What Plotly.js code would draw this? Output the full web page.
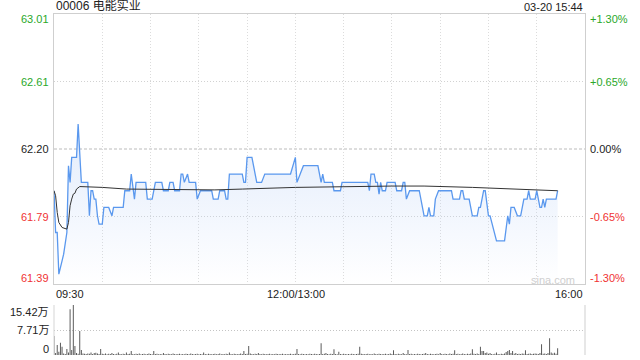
<!DOCTYPE html>
<html><head><meta charset="utf-8">
<script src="https://cdn.plot.ly/plotly-3.0.1.min.js"></script>
<style>html,body{margin:0;padding:0;background:#fff;}#chart{width:640px;height:360px;}</style>
</head><body><div id="chart"></div>
<script>
// ---- data ----
const stockTitle = '00006 电能实业';
const stampText = '03-20 15:44';
const prevClose = 62.20;
const pctLevels = [0.013, 0.0065, 0, -0.0065, -0.013];
const priceLabels = ['63.01', '62.61', '62.20', '61.79', '61.39'];
const pctLabels = ['+1.30%', '+0.65%', '0.00%', '-0.65%', '-1.30%'];
const timeTickMin = [0, 150, 330];
const timeLabels = ['09:30', '12:00/13:00', '16:00'];
const gridMin = [30, 60, 90, 120, 150, 180, 210, 240, 270, 300];

const priceMin = [0,1,2,3,5,6,8,9,10,11,14,15,17,21,22,23,24,25,26,27,28,30,31,34,36,37,43,44,47,48,50,51,57,58,61,62,63,67,68,71,72,74,75,78,79,80,81,83,84,88,89,91,98,99,102,103,106,107,108,109,117,118,119,120,123,126,129,131,147,150,151,153,155,164,166,167,168,173,174,178,179,195,196,197,199,200,201,202,203,204,206,207,212,213,216,217,218,219,221,227,228,230,232,233,234,236,237,239,247,248,252,253,254,255,258,260,263,264,265,267,268,270,271,273,275,280,282,283,284,286,288,290,292,294,295,296,299,300,301,302,303,304,305,306,312,313];
const priceVal = [61.95,61.70,61.70,61.45,61.53,61.57,61.70,62.10,62.00,62.15,62.15,62.35,62.00,62.00,61.80,61.95,61.95,61.90,61.90,61.80,61.75,61.75,61.85,61.85,61.80,61.85,61.85,61.95,61.95,62.05,61.90,62.00,62.00,61.90,61.90,61.95,62.00,62.00,61.95,61.95,62.00,62.00,61.95,61.95,62.05,62.05,62.00,62.05,62.00,62.00,61.90,61.95,61.95,61.90,61.90,61.95,61.95,61.90,61.90,62.05,62.05,62.00,62.00,62.15,62.15,62.00,62.00,62.05,62.05,62.15,62.00,62.05,62.10,62.10,62.00,62.05,62.00,62.00,61.95,61.95,62.00,62.00,61.95,62.05,62.05,62.00,62.00,61.93,62.00,61.95,61.95,62.00,62.00,61.95,61.95,62.00,62.00,61.90,61.95,61.95,61.90,61.80,61.80,61.85,61.80,61.80,61.90,61.95,61.95,61.90,61.90,61.95,61.95,61.90,61.90,61.80,61.80,61.85,61.85,61.95,61.95,61.80,61.80,61.72,61.65,61.65,61.80,61.75,61.85,61.85,61.80,61.80,61.90,61.90,61.95,61.90,61.90,61.95,61.90,61.85,61.85,61.90,61.85,61.90,61.90,61.95];

const avgMin = [0,1,2,3,5,8,9,10,11,12,13,14,16,30,45,100,117,150,210,230,260,285,313];
const avgVal = [61.95,61.92,61.82,61.76,61.73,61.72,61.76,61.86,61.90,61.93,61.935,61.96,61.975,61.97,61.96,61.955,61.96,61.97,61.978,61.978,61.97,61.96,61.95];

// volume per minute, in 万
const volume = [
5.86,0.6,3.08,1.0,3.8,2.57,0.5,0.3,1.85,0.8,
14.08,1.54,15.42,2.78,0.6,0.4,7.4,1.54,0.5,0.4,
0.3,0.5,0.4,0.8,0.3,0.6,0.7,0.5,0.3,1.85,
0.4,0.3,0.5,0.2,0.4,0.3,0.6,0.3,0.2,0.4,
0.8,0.3,0.2,0.4,0.3,0.8,0.3,0.4,1.2,0.3,
0.2,0.4,0.3,0.5,0.2,0.3,0.4,0.2,0.3,0.5,
0.3,0.2,1.2,0.3,0.4,0.2,0.3,0.2,0.6,0.3,
0.2,0.4,0.3,0.2,0.5,0.3,0.2,0.3,0.4,0.2,
0.3,0.2,0.4,0.3,0.2,0.5,0.3,0.2,0.3,0.4,
0.2,0.3,0.2,0.8,0.3,0.2,0.4,0.3,0.2,0.3,
0.4,0.2,0.3,0.5,0.2,0.3,0.2,0.4,0.3,0.8,
0.3,0.2,0.4,0.3,0.2,0.3,0.5,0.3,1.2,0.3,
0.4,2.78,0.5,0.3,0.2,0.4,0.3,0.6,0.3,0.2,
0.4,0.3,0.2,0.3,0.4,0.2,0.3,0.2,0.4,0.3,
0.2,0.3,0.4,0.2,0.3,0.2,0.3,0.4,0.2,0.3,
0.4,1.85,0.3,0.2,0.4,0.3,0.2,0.3,0.2,0.4,
0.3,0.2,0.4,0.3,0.2,0.3,3.6,0.3,0.4,0.6,
0.3,0.2,0.4,0.3,1.75,0.3,0.2,1.0,0.3,0.2,
0.4,0.3,0.2,0.3,0.2,0.4,0.3,0.2,0.3,0.4,
2.57,0.4,0.3,0.2,0.3,0.4,0.2,0.3,0.2,0.5,
0.3,0.2,0.4,0.3,0.2,0.3,0.4,0.2,0.3,0.5,
0.3,1.44,0.3,0.2,0.4,0.3,0.2,0.6,0.3,0.2,
1.54,0.3,0.4,0.2,0.3,0.2,0.4,0.3,0.2,0.3,
0.4,0.6,0.3,0.2,0.4,0.3,0.2,0.3,0.4,0.2,
0.6,0.3,0.2,0.4,0.3,0.2,0.5,0.3,0.4,1.44,
0.3,0.4,0.2,0.3,0.5,0.3,0.2,0.4,0.3,0.5,
1.75,0.4,0.3,0.5,0.3,2.57,1.2,1.2,0.6,0.8,
0.4,0.6,0.3,0.2,0.4,0.8,0.3,0.2,0.4,0.3,
0.5,0.9,1.2,1.54,0.6,1.2,0.4,0.6,0.3,0.4,
0.3,0.5,0.4,1.44,0.3,0.4,0.5,0.3,0.4,0.5,
0.4,0.3,0.6,3.3,0.4,0.5,0.3,0.6,5.14,0.8,
0.5,0.7,0.4,2.06
];
const volTicks = [15.42, 7.71, 0];
const volLabels = ['15.42万', '7.71万', '0'];

// ---- styling / build ----
const FONT = "'Liberation Sans', Arial, 'Noto Sans CJK SC', sans-serif";
const GREEN = '#2aa82a', RED = '#f03333', DARK = '#222';
const labelColors = [GREEN, GREEN, DARK, RED, RED];
const priceTicks = pctLevels.map(p => prevClose * (1 + p));
const yLo = priceTicks[4], yHi = priceTicks[0];
const volMin = volume.map((v, i) => i);

const mainDomain = [(355 - 284) / 341, 1];
const volDomain = [0, (355 - 305) / 341];

const traces = [
  {
    x: priceMin, y: priceVal, type: 'scatter', mode: 'lines',
    line: {color: '#5a98ee', width: 1.3},
    fill: 'tozeroy',
    fillgradient: {type: 'vertical', start: yLo, stop: 62.35,
      colorscale: [[0, 'rgba(190,212,248,0)'], [1, 'rgba(190,212,248,0.45)']]},
    xaxis: 'x', yaxis: 'y', hoverinfo: 'skip'
  },
  {
    x: avgMin, y: avgVal, type: 'scatter', mode: 'lines',
    line: {color: '#333', width: 1},
    xaxis: 'x', yaxis: 'y', hoverinfo: 'skip'
  },
  {
    x: volMin, y: volume, type: 'bar', width: 0.6,
    marker: {color: '#555', line: {width: 0}},
    xaxis: 'x2', yaxis: 'y3', hoverinfo: 'skip'
  }
];

const ann = [];
const lf = (c) => ({family: FONT, size: 11, color: c});
priceTicks.forEach((v, i) => {
  const ys = i === 0 ? -5 : (i === 4 ? 6 : 0);
  ann.push({xref: 'paper', x: 0, xanchor: 'right', xshift: -3, yref: 'y', y: v, yanchor: 'middle', yshift: ys,
    text: priceLabels[i], showarrow: false, font: lf(labelColors[i])});
  ann.push({xref: 'paper', x: 1, xanchor: 'left', xshift: 3, yref: 'y', y: v, yanchor: 'middle', yshift: ys,
    text: pctLabels[i], showarrow: false, font: lf(labelColors[i])});
});
volTicks.forEach((v, i) => {
  const ys = i === 0 ? -6.5 : (i === 2 ? 6.5 : 0);
  ann.push({xref: 'paper', x: 0, xanchor: 'right', xshift: -3, yref: 'y3', y: v, yanchor: 'middle', yshift: ys,
    text: volLabels[i], showarrow: false, font: lf(DARK)});
});
timeTickMin.forEach((m, i) => {
  ann.push({xref: 'x', x: m, xanchor: i === 0 ? 'left' : (i === 2 ? 'right' : 'center'), xshift: i === 1 ? 1 : 0,
    yref: 'y', y: yLo, yanchor: 'top', yshift: -2,
    text: timeLabels[i], showarrow: false, font: lf(DARK)});
});
ann.push({xref: 'paper', x: 0, xanchor: 'left', yref: 'paper', y: 1, yanchor: 'bottom', yshift: -1,
  text: stockTitle, showarrow: false, font: {family: FONT, size: 12, color: DARK}});
ann.push({xref: 'paper', x: 1, xanchor: 'right', yref: 'paper', y: 1, yanchor: 'bottom', yshift: -1,
  text: stampText, showarrow: false, font: {family: FONT, size: 11, color: DARK}});
ann.push({xref: 'x', x: 310, xanchor: 'center', yref: 'y', y: 61.414, yanchor: 'middle',
  text: 'sina.com', showarrow: false, font: {family: FONT, size: 11, color: '#cfcfcf'}});

const DOT = '1px,2px';
const GRID = '#dcdcdc';
const layout = {
  width: 640, height: 360,
  margin: {l: 54, r: 55, t: 14, b: 5, pad: 0},
  paper_bgcolor: '#fff', plot_bgcolor: '#fff',
  showlegend: false, hovermode: false,
  font: {family: FONT, size: 11, color: DARK},
  xaxis: {domain: [0, 1], range: [0, 330], anchor: 'y', tickvals: gridMin, showticklabels: false, ticks: '',
    showgrid: true, gridcolor: GRID, griddash: DOT, gridwidth: 1,
    showline: true, mirror: true, linecolor: '#cfcfcf', linewidth: 1, zeroline: false, fixedrange: true},
  yaxis: {domain: mainDomain, range: [yLo, yHi], anchor: 'x', tickvals: [priceTicks[1], priceTicks[3]],
    showticklabels: false, ticks: '', showgrid: true, gridcolor: '#d2d2d2', griddash: DOT,
    showline: true, mirror: true, linecolor: '#cfcfcf', linewidth: 1, zeroline: false, fixedrange: true},
  xaxis2: {domain: [0, 1], range: [0, 330], anchor: 'y3', showticklabels: false, ticks: '', showgrid: false,
    showline: false, zeroline: false, fixedrange: true},
  yaxis3: {domain: volDomain, range: [0, 15.42], anchor: 'x2', tickvals: volTicks, showticklabels: false, ticks: '',
    showgrid: true, gridcolor: '#c4c4c4', griddash: DOT, showline: false, zeroline: false, fixedrange: true},
  shapes: [
    {type: 'line', xref: 'x', x0: 0, x1: 330, yref: 'y', y0: prevClose, y1: prevClose,
      line: {color: '#bbbbbb', width: 1, dash: '3px,2px'}, layer: 'below'},
    {type: 'line', xref: 'paper', x0: 0, x1: 0, yref: 'y3', y0: 0, y1: 15.42, line: {color: '#d5d5d5', width: 1}},
    {type: 'line', xref: 'paper', x0: 1, x1: 1, yref: 'y3', y0: 0, y1: 15.42, line: {color: '#cfcfcf', width: 1}}
  ],
  annotations: ann
};

Plotly.newPlot('chart', traces, layout, {staticPlot: true, displayModeBar: false});
</script>
</body></html>
